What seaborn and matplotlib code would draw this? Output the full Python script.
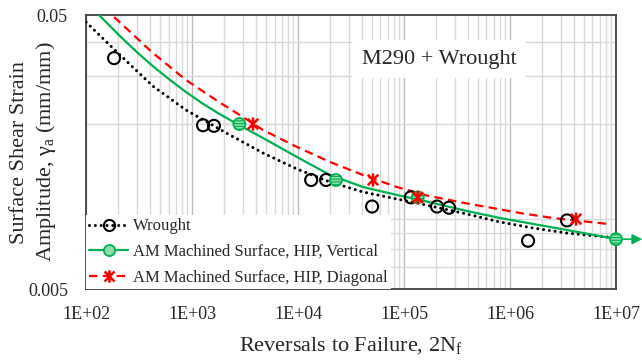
import matplotlib
matplotlib.use("Agg")
import matplotlib.pyplot as plt
import numpy as np
import pandas as pd
import seaborn as sns
from matplotlib.path import Path
from matplotlib.lines import Line2D
from matplotlib.ticker import LogLocator, FixedLocator, FixedFormatter, NullFormatter

# Test results: reversals to failure (2Nf) and surface shear strain amplitude
wrought_rev = [184, 1270, 1610, 13300, 18400, 50000, 116000, 205000, 266000, 1.48e6, 3.45e6]
wrought_amp = [0.0348, 0.0198, 0.0197, 0.0125, 0.0125, 0.0100, 0.0108, 0.0100, 0.0099, 0.0075, 0.0089]

vert_rev = [2800, 22800, 135000, 1.0e7]
vert_amp = [0.0200, 0.0125, 0.0108, 0.0076]
vert_runout = [False, False, False, True]

diag_rev = [3760, 51000, 135000, 4.2e6]
diag_amp = [0.0200, 0.0125, 0.0108, 0.0090]

# Fitted strain-life curves
wrought_fit_rev = [100, 205, 428, 877, 1683, 2280, 4674, 9790, 20060, 41040, 85870,
                   132700, 187800, 392900, 805000, 1.648e6, 3.45e6, 8.22e6, 1.0e7]
wrought_fit_amp = [0.0471, 0.0360, 0.0275, 0.0225, 0.0195, 0.01824, 0.01568, 0.0137,
                   0.01229, 0.0113, 0.01065, 0.0103, 0.0100, 0.00939, 0.00878, 0.00835,
                   0.0080, 0.00774, 0.00767]

vert_fit_rev = [132.6, 205, 296, 428, 607, 877, 1243, 1798, 2775, 4674, 9790, 20060,
                41040, 85870, 135500, 187800, 392900, 805000, 1.648e6, 3.45e6, 1.0e7]
vert_fit_amp = [0.0500, 0.0422, 0.03685, 0.03252, 0.02915, 0.02618, 0.02384, 0.02181,
                0.01984, 0.01779, 0.01516, 0.01303, 0.01178, 0.01102, 0.01061, 0.0103,
                0.00963, 0.00908, 0.00864, 0.00821, 0.00761]

diag_fit_rev = [184, 428, 877, 1798, 3027, 4674, 9790, 20060, 41040, 85870, 164800,
                392900, 606800, 1.242e6, 2.547e6, 8.4e6]
diag_fit_amp = [0.04917, 0.03632, 0.02896, 0.02407, 0.02122, 0.01902, 0.01649, 0.01454,
                0.01303, 0.01178, 0.01097, 0.01026, 0.00996, 0.00947, 0.00908, 0.00864]

x_ticks = [1e2, 1e3, 1e4, 1e5, 1e6, 1e7]
x_tick_labels = ["1E+02", "1E+03", "1E+04", "1E+05", "1E+06", "1E+07"]
y_ticks = [0.005, 0.05]
y_tick_labels = ["0.005", "0.05"]

series_labels = ["Wrought",
                 "AM Machined Surface, HIP, Vertical",
                 "AM Machined Surface, HIP, Diagonal"]

BLACK = "#000000"
GREEN = "#00b050"
GREEN_FILL = "#8fdcaa"
RED = "#ff0000"

sns.set_style("white")
plt.rcParams["font.family"] = ["Liberation Serif", "DejaVu Serif"]
plt.rcParams["mathtext.fontset"] = "custom"
plt.rcParams["mathtext.rm"] = "Liberation Serif"
plt.rcParams["mathtext.it"] = "Liberation Serif"
plt.rcParams["hatch.linewidth"] = 0.8

# asterisk marker: an X crossed by a vertical stroke
star_path = Path(
    [(-1, -1), (1, 1), (-1, 1), (1, -1), (0, -1.25), (0, 1.25)],
    [Path.MOVETO, Path.LINETO, Path.MOVETO, Path.LINETO, Path.MOVETO, Path.LINETO],
)

fig = plt.figure(figsize=(6.42, 3.61), dpi=100)
ax = fig.add_axes([0.134, 0.1994, 0.8255, 0.759])
ax.set_xscale("log")
ax.set_yscale("log")
ax.set_xlim(1e2, 1e7)
ax.set_ylim(0.005, 0.05)

# fitted curves
fits = pd.DataFrame({
    "rev": wrought_fit_rev + vert_fit_rev + diag_fit_rev,
    "amp": wrought_fit_amp + vert_fit_amp + diag_fit_amp,
    "series": ["w"] * len(wrought_fit_rev) + ["v"] * len(vert_fit_rev) + ["d"] * len(diag_fit_rev),
})
sns.lineplot(data=fits[fits.series == "w"], x="rev", y="amp", ax=ax, color=BLACK,
             lw=2.2, linestyle=(0, (0.01, 1.9)), dash_capstyle="round",
             sort=False, estimator=None, legend=False, zorder=3)
sns.lineplot(data=fits[fits.series == "v"], x="rev", y="amp", ax=ax, color=GREEN,
             lw=1.6, sort=False, estimator=None, legend=False, zorder=3)
sns.lineplot(data=fits[fits.series == "d"], x="rev", y="amp", ax=ax, color=RED,
             lw=1.6, linestyle=(0, (3.8, 2.4)), sort=False, estimator=None,
             legend=False, zorder=3)

# test points
sns.scatterplot(x=wrought_rev, y=wrought_amp, ax=ax, marker="o", s=75,
                facecolor="none", edgecolor=BLACK, linewidth=1.5, zorder=4)
sns.scatterplot(x=vert_rev, y=vert_amp, ax=ax, marker="o", s=75,
                facecolor=GREEN_FILL, edgecolor=GREEN, linewidth=1.3,
                hatch="------", zorder=5, clip_on=False)
sns.scatterplot(x=diag_rev, y=diag_amp, ax=ax, marker=star_path, s=90,
                facecolor="none", edgecolor=RED, linewidth=1.8, zorder=6)

# run-out arrow
for r, a, ro in zip(vert_rev, vert_amp, vert_runout):
    if ro:
        ax.annotate("", xy=(r, a), xytext=(19, 0), textcoords="offset points",
                    arrowprops=dict(arrowstyle="<|-,head_length=0.6,head_width=0.3",
                                    color=GREEN, lw=1.2, shrinkA=0, shrinkB=5),
                    annotation_clip=False, zorder=4)

ax.set_xlabel("")
ax.set_ylabel("")

# grid and ticks
ax.xaxis.set_major_locator(FixedLocator(x_ticks))
ax.xaxis.set_major_formatter(FixedFormatter(x_tick_labels))
ax.xaxis.set_minor_locator(LogLocator(base=10, subs=np.arange(2, 10)))
ax.xaxis.set_minor_formatter(NullFormatter())
ax.yaxis.set_major_locator(FixedLocator(y_ticks))
ax.yaxis.set_major_formatter(FixedFormatter(y_tick_labels))
ax.yaxis.set_minor_locator(LogLocator(base=10, subs=np.arange(2, 10)))
ax.yaxis.set_minor_formatter(NullFormatter())
ax.grid(True, which="major", axis="x", color="#bdbdbd", lw=1.0)
ax.grid(True, which="minor", axis="both", color="#d9d9d9", lw=1.0)
ax.set_axisbelow(True)
ax.tick_params(which="both", length=0)
ax.tick_params(axis="x", which="major", labelsize=13, pad=12)
ax.tick_params(axis="y", which="major", labelsize=13, pad=13)
for s in ax.spines.values():
    s.set_color("#404040")
    s.set_linewidth(1.3)

# legend
handles = [
    Line2D([], [], color=BLACK, lw=2.2, linestyle=(0, (0.01, 1.9)), dash_capstyle="round",
           marker="o", ms=8, mfc="none", mec=BLACK, mew=1.5),
    Line2D([], [], color=GREEN, lw=1.6, marker="o", ms=8, mfc=GREEN_FILL, mec=GREEN, mew=1.3),
    Line2D([], [], color=RED, lw=1.6, linestyle=(0, (3.8, 2.4)), marker=star_path,
           ms=9, mfc="none", mec=RED, mew=1.8),
]
leg = ax.legend(handles, series_labels, loc="lower left", bbox_to_anchor=(0, 0),
                borderaxespad=0, frameon=True, fancybox=False, framealpha=1,
                facecolor="white", edgecolor="none", fontsize=12,
                handlelength=2.3, handletextpad=0.3, labelspacing=0.58,
                borderpad=0.2)
leg.set_zorder(7)

# annotation box
ax.text(0.666, 0.839, "M290 + Wrought", transform=ax.transAxes, fontsize=16,
        ha="center", va="center", zorder=7,
        bbox=dict(facecolor="white", edgecolor="none", pad=7))

# axis titles
fig.text(351 / 642, 1 - 346 / 361, "Reversals to Failure, 2N$_\\mathrm{f}$",
         ha="center", va="center", fontsize=16)
fig.text(34 / 642, 1 - 152 / 361,
         "Surface Shear Strain\nAmplitude, \u03b3$_\\mathrm{a}$ (mm/mm)",
         ha="center", va="center", rotation=90, fontsize=16, linespacing=1.25,
         multialignment="center")

fig.savefig("out.png", dpi=100)
